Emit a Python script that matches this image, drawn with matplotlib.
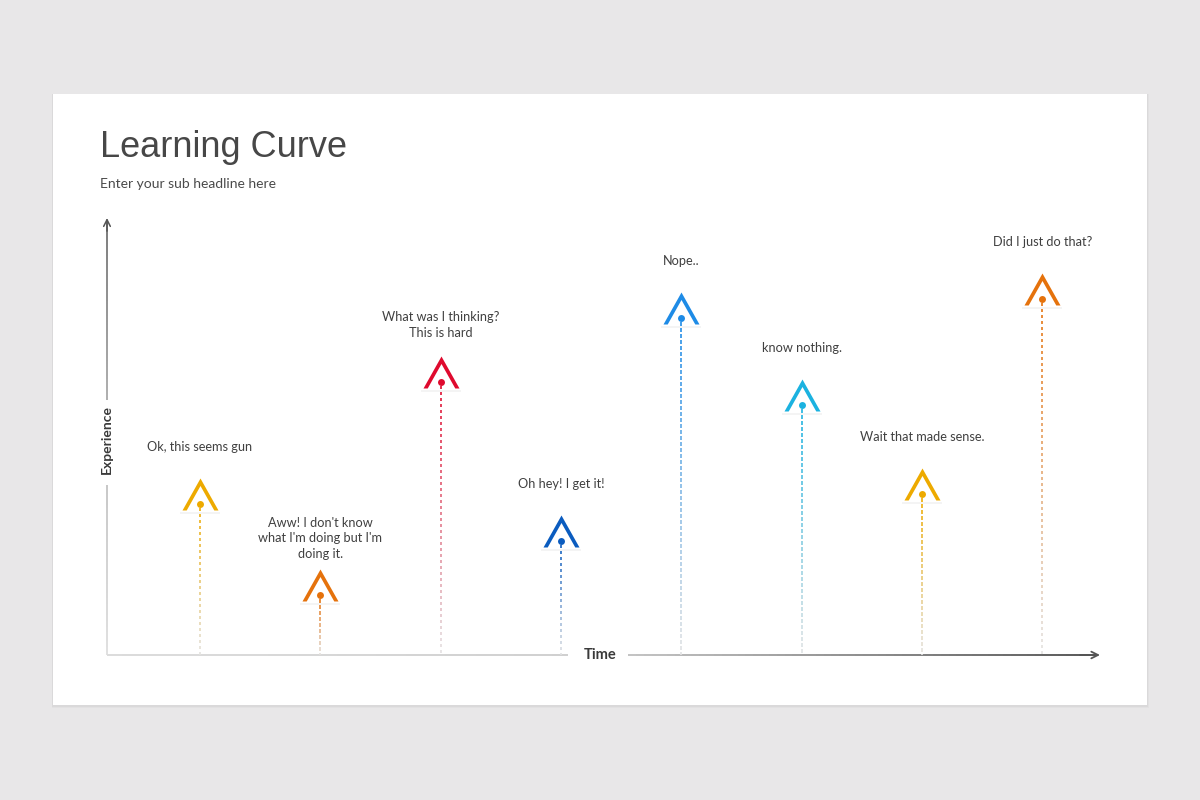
import numpy as np
import matplotlib
matplotlib.use("Agg")
import matplotlib.pyplot as plt
from matplotlib.collections import LineCollection
from matplotlib.colors import to_rgb
from matplotlib.markers import MarkerStyle
from matplotlib.patches import Rectangle
from matplotlib.path import Path

# data
time_steps = [1, 2, 3, 4, 5, 6, 7, 8]
experience = [34.6, 13.7, 62.5, 26.1, 77.1, 57.2, 36.8, 81.5]
labels = [
    "Ok, this seems gun",
    "Aww! I don't know\nwhat I'm doing but I'm\ndoing it.",
    "What was I thinking?\nThis is hard",
    "Oh hey! I get it!",
    "Nope..",
    "know nothing.",
    "Wait that made sense.",
    "Did I just do that?",
]
colors = ["#EDAA00", "#E5720C", "#DF0A2E", "#0B5CBF", "#1E8BE6", "#1BB2E0", "#EDAA00", "#E5720C"]

W, H, DPI = 1200, 800, 100
fig = plt.figure(figsize=(W / DPI, H / DPI), dpi=DPI, facecolor="#e8e7e8")

# slide card with a soft shadow
for grow, col in [(3, "#e2e1e2"), (1.5, "#dad9da")]:
    fig.add_artist(Rectangle(((53 - grow * 0.5) / W, (95 - grow) / H), (1094 + grow) / W,
                             (611 + grow) / H, transform=fig.transFigure, facecolor=col,
                             edgecolor="none", zorder=-10))
fig.add_artist(Rectangle((53 / W, 95 / H), 1094 / W, 611 / H,
                         transform=fig.transFigure, facecolor="white", edgecolor="none",
                         zorder=-9))

fig.text(100 / W, 1 - 157 / H, "Learning Curve", fontsize=26, color="#474747",
         family="Liberation Sans", va="baseline")
fig.text(100 / W, 1 - 188 / H, "Enter your sub headline here", fontsize=10, color="#4a4a4a",
         family="Lato", va="baseline")

ax = fig.add_axes([107 / W, 145 / H, 993 / W, 437 / H])
ax.set_xlim(0.227, 8.48)
ax.set_ylim(0, 100)
ax.axis("off")
ax.patch.set_alpha(0)


def gradient_line(p0, p1, c0, c1, lw, n=60, transform=None):
    t = np.linspace(0, 1, n + 1)
    xs = p0[0] + (p1[0] - p0[0]) * t
    ys = p0[1] + (p1[1] - p0[1]) * t
    segs = [[(xs[i], ys[i]), (xs[i + 1], ys[i + 1])] for i in range(n)]
    a, b = np.array(to_rgb(c0)), np.array(to_rgb(c1))
    cols = [a + (b - a) * (i + 0.5) / n for i in range(n)]
    lc = LineCollection(segs, colors=cols, linewidths=lw, capstyle="butt",
                        transform=transform if transform is not None else ax.transData)
    lc.set_clip_on(False)
    ax.add_collection(lc)


# axes
gradient_line((0, 0), (0, 0.389), "#d8d8d8", "#b8b8b8", 1.1, transform=ax.transAxes)
gradient_line((0, 0.583), (0, 0.995), "#9a9a9a", "#555555", 1.1, transform=ax.transAxes)
ax.annotate("", xy=(0, 1.0), xytext=(0, 0.97), xycoords="axes fraction",
            arrowprops=dict(arrowstyle="->", color="#555555", lw=1.1, mutation_scale=12,
                            shrinkA=0, shrinkB=0))
ax.text(0, 0.494, "Experience", rotation=90, transform=ax.transAxes, ha="center", va="center",
        fontsize=10, fontweight="bold", color="#3a3a3a", family="Lato")

gradient_line((0, 0), (0.464, 0), "#dcdcdc", "#cfcfcf", 1.4, transform=ax.transAxes)
gradient_line((0.525, 0), (0.997, 0), "#c4c4c4", "#555555", 1.4, transform=ax.transAxes)
ax.annotate("", xy=(1.0, 0), xytext=(0.98, 0), xycoords="axes fraction",
            arrowprops=dict(arrowstyle="->", color="#555555", lw=1.3, mutation_scale=12,
                            shrinkA=0, shrinkB=0))
ax.text(0.4965, 0, "Time", transform=ax.transAxes, ha="center", va="center",
        fontsize=10.5, fontweight="bold", color="#3a3a3a", family="Lato")

# chevron marker, drawn in pixel units relative to the dot
chev = Path([(-18, -6), (0, 26), (18, -6), (13.8, -6), (0, 18.5), (-13.8, -6), (-18, -6)],
            [Path.MOVETO] + [Path.LINETO] * 5 + [Path.CLOSEPOLY])
chev_marker = MarkerStyle(chev)
shadow = Path([(-20, -8), (20, -8), (20, -10.5), (-20, -10.5), (-20, -8)],
              [Path.MOVETO] + [Path.LINETO] * 3 + [Path.CLOSEPOLY])
shadow_marker = MarkerStyle(shadow)

px_per_unit = 437 / 100
period = 6 / px_per_unit
dash = 3.5 / px_per_unit

for t, v, lab, c in zip(time_steps, experience, labels, colors):
    # dashed stem fading to grey
    starts = np.arange(v - 4 / px_per_unit, 0, -period)
    segs = [[(t, s), (t, max(s - dash, 0))] for s in starts]
    top, bot = np.array(to_rgb(c)), np.array(to_rgb("#e4e4e4"))
    cols = [bot + (top - bot) * (s / v) for s in starts]
    ax.add_collection(LineCollection(segs, colors=cols, linewidths=1.2, capstyle="butt"))

    ax.plot([t], [v], marker=shadow_marker, ms=40 * 0.72, color="#f4f4f4", mew=0, zorder=2)
    ax.plot([t], [v], marker=chev_marker, ms=52 * 0.72, color=c, mew=0, zorder=3)
    ax.plot([t], [v], marker="o", ms=5, color=c, mew=0, zorder=4)
    ax.annotate(lab, xy=(t, v), xytext=(0, 57), textcoords="offset pixels",
                ha="center", va="center", fontsize=9.2, color="#404040", family="Lato",
                linespacing=1.35, annotation_clip=False)

fig.savefig("out.png", dpi=DPI, facecolor=fig.get_facecolor())
